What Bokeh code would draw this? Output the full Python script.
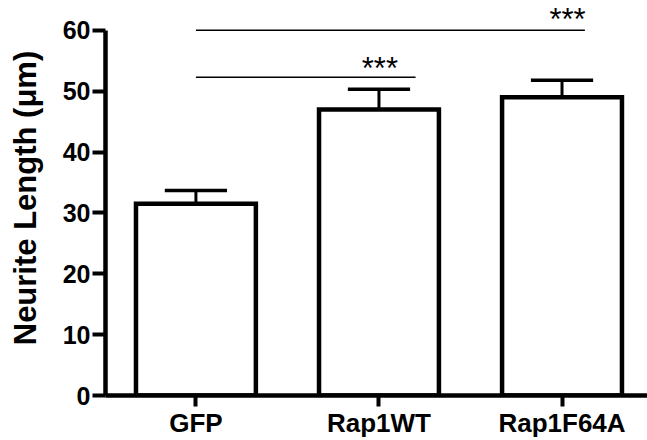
from bokeh.plotting import figure
from bokeh.models import Range1d, FixedTicker, ColumnDataSource
from bokeh.embed import file_html
from bokeh.resources import INLINE
from bokeh.core.properties import value

# ---- data ----
categories = ["GFP", "Rap1WT", "Rap1F64A"]
means = [31.5, 47.0, 49.0]
sem = [2.2, 3.3, 2.8]
y_ticks = [0, 10, 20, 30, 40, 50, 60]

# significance brackets (x in category units: 1 = GFP, 2 = Rap1WT, 3 = Rap1F64A)
sig_start = [1.0, 1.0]
sig_end = [2.2, 3.125]
sig_level = [52.3, 60.0]
sig_text = ["***", "***"]
sig_text_x = [2.005, 3.03]
sig_text_y = [53.7, 61.8]

xs = list(range(1, len(categories) + 1))
tops = [m + s for m, s in zip(means, sem)]

FONT = "Liberation Sans"

p = figure(width=647, height=440,
           x_range=Range1d(0.506, 3.467), y_range=Range1d(0, 64.9),
           output_backend="svg", toolbar_location=None,
           min_border_left=105, min_border_right=0,
           min_border_top=0, min_border_bottom=40)
p.outline_line_color = None
p.xgrid.visible = False
p.ygrid.visible = False
p.background_fill_color = "white"
p.border_fill_color = "white"

bars = ColumnDataSource(dict(x=xs, top=means, err=tops))

# error bars (upper only)
p.segment(x0="x", y0="top", x1="x", y1="err", source=bars,
          line_color="black", line_width=3)
p.segment(x0=[x - 0.17 for x in xs], y0=tops, x1=[x + 0.17 for x in xs], y1=tops,
          line_color="black", line_width=3.5)

p.vbar(x="x", top="top", bottom=0, width=0.655, source=bars,
       fill_color="white", line_color="black", line_width=4.5, line_join="miter")

# significance lines and stars
p.segment(x0=sig_start, y0=sig_level, x1=sig_end, y1=sig_level,
          line_color="black", line_width=1.6)
p.text(x=sig_text_x, y=sig_text_y, text=sig_text,
       text_font=value(FONT), text_font_size="31px",
       text_align="center", text_baseline="alphabetic", text_color="black")

# y axis
ya = p.yaxis[0]
ya.ticker = FixedTicker(ticks=y_ticks)
ya.bounds = (0, 60)
ya.axis_label = "Neurite Length (μm)"
ya.axis_label_text_font = FONT
ya.axis_label_text_font_style = "bold"
ya.axis_label_text_font_size = "31px"
ya.axis_label_text_color = "black"
ya.axis_label_standoff = 17
ya.axis_line_width = 4.5
ya.axis_line_color = "black"
ya.major_tick_line_width = 4
ya.major_tick_line_color = "black"
ya.major_tick_out = 13
ya.major_tick_in = 0
ya.minor_tick_out = 0
ya.minor_tick_in = 0
ya.major_label_text_font = FONT
ya.major_label_text_font_style = "bold"
ya.major_label_text_font_size = "25px"
ya.major_label_text_color = "black"
ya.major_label_standoff = 2

# x axis
xa = p.xaxis[0]
xa.ticker = FixedTicker(ticks=xs)
xa.major_label_overrides = {x: c for x, c in zip(xs, categories)}
xa.axis_line_width = 4.5
xa.axis_line_color = "black"
xa.major_tick_line_width = 4
xa.major_tick_line_color = "black"
xa.major_tick_out = 11
xa.major_tick_in = 0
xa.minor_tick_out = 0
xa.minor_tick_in = 0
xa.major_label_text_font = FONT
xa.major_label_text_font_style = "bold"
xa.major_label_text_font_size = "26px"
xa.major_label_text_color = "black"
xa.major_label_standoff = 1

open("out.html", "w").write(file_html(p, INLINE))
